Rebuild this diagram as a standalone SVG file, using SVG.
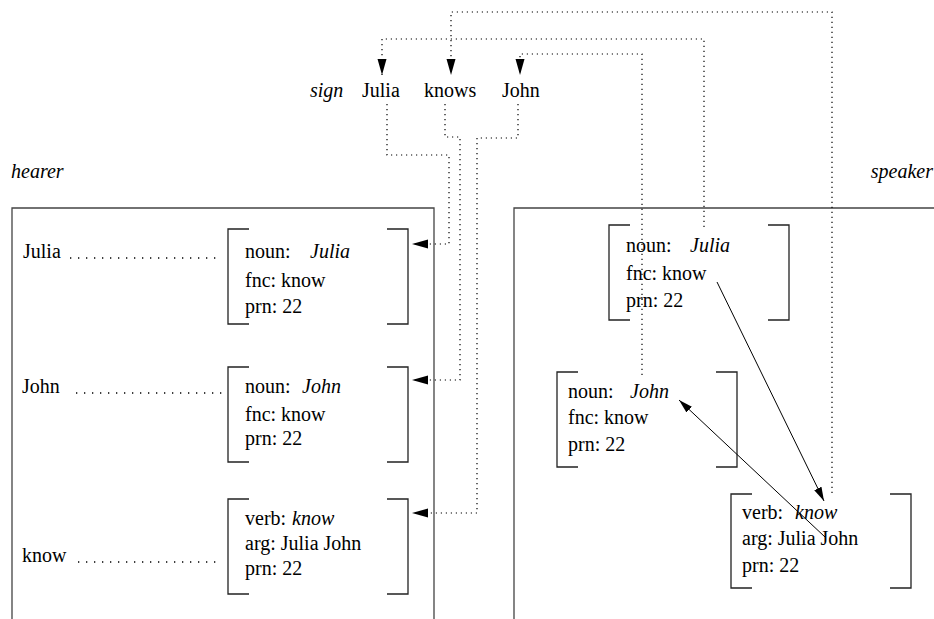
<svg xmlns="http://www.w3.org/2000/svg" width="934" height="619" viewBox="0 0 934 619">
<style>
text{font-size:20px;fill:#000}
.it{font-style:italic}
.frame{fill:none;stroke:#444;stroke-width:1.3}
.br{fill:none;stroke:#222;stroke-width:1.3}
.dot{fill:none;stroke:#000;stroke-width:1.2;stroke-dasharray:1.2 3.8}
.lead{fill:none;stroke:#000;stroke-width:1.3;stroke-dasharray:1.3 6.7}
.solid{fill:none;stroke:#000;stroke-width:1}
</style>
<defs>
<marker id="ah" markerUnits="userSpaceOnUse" markerWidth="17" markerHeight="10" refX="16" refY="5" orient="auto">
<path d="M0,0.5 L16,5 L0,9.5 Z" fill="#000"/>
</marker>
<marker id="ah2" markerUnits="userSpaceOnUse" markerWidth="15" markerHeight="9" refX="14" refY="4.5" orient="auto">
<path d="M0,0.5 L14,4.5 L0,8.5 Z" fill="#000"/>
</marker>
</defs>
<g font-family="'Liberation Serif', 'DejaVu Serif', serif">
<g id="sign">
<text x="310" y="97" class="it">sign</text>
<text x="362" y="97">Julia</text>
<text x="424" y="97">knows</text>
<text x="502" y="97">John</text>
</g>

<g id="hearer">
<text x="11" y="178" class="it">hearer</text>
<path class="frame" d="M12,625 V208 H434 V625"/>
</g>

<g id="speaker">
<text x="933" y="178" class="it" text-anchor="end">speaker</text>
<path class="frame" d="M514,625 V208 H940"/>
</g>

<g id="h-julia">
<text x="23" y="258">Julia</text>
<path class="lead" d="M70,258 H222"/>
<path class="br" d="M249,229 H228 V324 H249 M387,229 H408 V324 H387"/>
<text x="245" y="258">noun:</text>
<text x="310" y="258" class="it">Julia</text>
<text x="245" y="287">fnc: know</text>
<text x="245" y="313">prn: 22</text>
</g>

<g id="h-john">
<text x="22" y="393">John</text>
<path class="lead" d="M76,393 H222"/>
<path class="br" d="M249,367 H228 V462 H249 M387,367 H408 V462 H387"/>
<text x="245" y="393">noun:</text>
<text x="302" y="393" class="it">John</text>
<text x="245" y="421">fnc: know</text>
<text x="245" y="445">prn: 22</text>
</g>

<g id="h-know">
<text x="22" y="562">know</text>
<path class="lead" d="M78,562 H220"/>
<path class="br" d="M249,499 H228 V594 H249 M387,499 H408 V594 H387"/>
<text x="245" y="525">verb:</text>
<text x="292" y="525" class="it">know</text>
<text x="245" y="550">arg: Julia John</text>
<text x="245" y="575">prn: 22</text>
</g>

<g id="s-julia">
<path class="br" d="M630,225 H609 V320 H630 M768,225 H789 V320 H768"/>
<text x="626" y="252">noun:</text>
<text x="690" y="252" class="it">Julia</text>
<text x="626" y="280">fnc: know</text>
<text x="626" y="307">prn: 22</text>
</g>

<g id="s-john">
<path class="br" d="M578,372 H557 V467 H578 M716,372 H737 V467 H716"/>
<text x="568" y="398">noun:</text>
<text x="630" y="398" class="it">John</text>
<text x="568" y="424">fnc: know</text>
<text x="568" y="451">prn: 22</text>
</g>

<g id="s-know">
<path class="br" d="M752,494 H731 V588 H752 M890,494 H911 V588 H890"/>
<text x="742" y="519">verb:</text>
<text x="795" y="519" class="it">know</text>
<text x="742" y="545">arg: Julia John</text>
<text x="742" y="572">prn: 22</text>
</g>
</g>
<g id="connectors">
<path class="dot" d="M832,493 V12 H451 V75" marker-end="url(#ah)"/>
<path class="dot" d="M704,227 V39 H382 V75" marker-end="url(#ah)"/>
<path class="dot" d="M642,375 V54 H520 V75" marker-end="url(#ah)"/>
<path class="dot" d="M387,104 V155 H449 V244 H412" marker-end="url(#ah)"/>
<path class="dot" d="M445,104 V137 H460 V380 H412" marker-end="url(#ah)"/>
<path class="dot" d="M518,104 V138 H477 V513 H412" marker-end="url(#ah)"/>
<path class="solid" d="M717,282 L824,501" marker-end="url(#ah2)"/>
<path class="solid" d="M825,537 L679,400" marker-end="url(#ah2)"/>
</g>
</svg>
